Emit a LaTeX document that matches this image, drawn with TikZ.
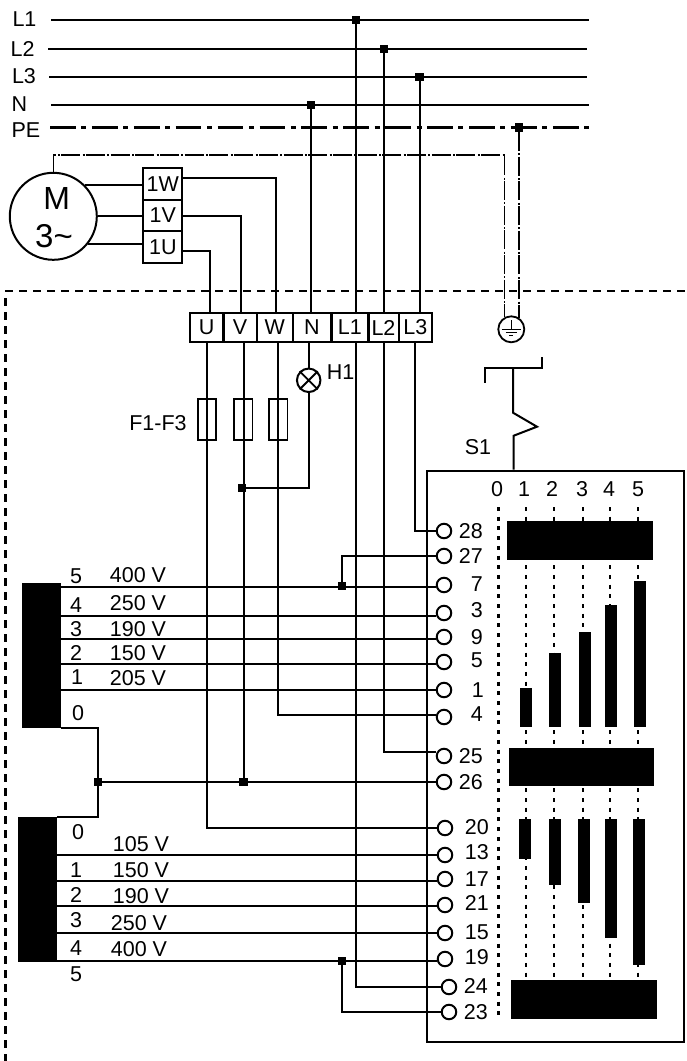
\documentclass[tikz,border=0pt]{standalone}
\usepackage{fontspec}
\setmainfont{Liberation Sans}
\usepackage{tikz}
\usetikzlibrary{positioning}

\begin{document}
\begin{tikzpicture}[x=1pt, y=-1pt,
		txt/.style = {inner sep=0, font=\fontsize{21.5}{24}\selectfont},
		bus/.style = {line width=2.9pt},
		pebus/.style = {line width=3.1pt, dash pattern=on 25.7pt off 5.6pt on 5pt off 5.6pt},
		wire/.style = {line width=2pt},
		pewire/.style = {line width=1.6pt, dash pattern=on 19pt off 2.4pt on 2pt off 1.3pt},
		limit/.style = {line width=2.6pt, dash pattern=on 8pt off 6pt},
		dots/.style = {line width=2.2pt, dash pattern=on 4pt off 5.7pt},
		joint/.style = {fill, inner sep=0, minimum size=8.5pt},
		cell/.style = {txt, draw, line width=2.4pt, minimum height=29pt},
		wind/.style = {txt, draw, line width=2.2pt, minimum width=39pt},
		fuse/.style = {draw, line width=1.8pt, minimum width=18.5pt, minimum height=41pt, inner sep=0},
		term/.style = {draw, circle, line width=2pt, minimum size=14.5pt, inner sep=0},
		core/.style = {fill, inner sep=0, minimum width=39pt, minimum height=145pt}]
	\useasboundingbox (0,0) rectangle (686,1061);

	% supply lines
	\foreach \n/\ax/\bx/\ly/\lx in {L1/51/589/20/24.5, L2/48/587/49/22.7, L3/49/587/77/24, N/51/589/105/19.5} {
		\node[txt] (l\n) at (\lx,\ly-0.5) {\n};
		\coordinate (a\n) at (\ax,\ly);
		\coordinate (b\n) at (\bx,\ly);
		\draw[bus] (a\n) -- (b\n);
	}
	\node[txt] (lPE) at (26,130.5) {PE};
	\coordinate (aPE) at (50,127.5);
	\coordinate (bPE) at (589,127.5);
	\draw[pebus] (aPE) -- (bPE);
	\node[joint] (jL1) at (356,20) {};
	\node[joint] (jL2) at (384,49) {};
	\node[joint] (jL3) at (419.5,77) {};
	\node[joint] (jN) at (311,105) {};
	\node[joint] (jPE) at (519,127.5) {};

	% motor
	\node[draw, circle, line width=2pt, minimum size=87pt, inner sep=0] (motor) at (53.3,216.3) {};
	\node[inner sep=0, font=\fontsize{32}{34}\selectfont] (mM) at (56.7,198) {M};
	\node[inner sep=0, font=\fontsize{33}{34}\selectfont] (m3) at (54,236) {3\textasciitilde};
	\node[wind, minimum height=32pt] (1W) at (162.8,184) {1W};
	\node[wind, minimum height=31pt] (1V) at (162.8,215.5) {1V};
	\node[wind, minimum height=32pt] (1U) at (162.8,247) {1U};
	\draw[wire] (motor.44) -- (motor.44 -| 1W.west);
	\draw[wire] (motor.east) -- (motor.east -| 1V.west);
	\draw[wire] (motor.-39) -- (motor.-39 -| 1U.west);

	% limit of the unit
	\coordinate (lim0) at (5.3,291);
	\coordinate (lim1) at (686,291);
	\coordinate (lim2) at (5.3,298);
	\coordinate (lim3) at (5.3,1061);
	\draw[limit] (lim0) -- (lim1);
	\draw[limit] (lim2) -- (lim3);

	% terminal block
	\foreach \n/\xa/\xb in {U/190/223.3, V/223.3/256.7, W/256.7/292.7, N/292.7/331.3, L1/331.3/368.3, L2/368.3/398.7, L3/398.7/432} {
		\node[cell, minimum width={(\xb-\xa)*1pt}] (t\n) at ({(\xa+\xb)/2},327.5) {\n};
	}
	\foreach \n/\yw/\xw/\t in {1W/177.7/275.7/W, 1V/215.7/241/V, 1U/250.7/210/U} {
		\coordinate (o\n) at (182.3,\yw);
		\draw[wire] (o\n) -| (\xw,0 |- t\t.north);
	}
	\draw[wire] (jN) -- (jN |- tN.north);
	\draw[wire] (jL1) -- (jL1 |- tL1.north);
	\draw[wire] (jL2) -- (jL2 |- tL2.north);
	\draw[wire] (jL3) -- (jL3 |- tL3.north);

	% earth
	\node[draw, circle, line width=1.8pt, minimum size=26pt, inner sep=0] (earth) at (511.3,329.3) {};
	\coordinate (pecorner) at (earth.119 |- 0,155);
	\draw[pewire] (motor.north) |- (pecorner) -- (earth.119);
	\draw[pewire] (jPE) -- (jPE |- earth.52);
	\draw[line width=1pt] (earth.center) ++(0,-9) -- ++(0,9) ++(-9.5,0) -- ++(19,0) ++(-15,3.2) -- ++(11,0) ++(-7.5,3.2) -- ++(4,0);

	% switch
	\node[draw, line width=2.8pt, minimum width=257pt, minimum height=571pt, inner sep=0] (drum) at (555.5,756.5) {};
	\coordinate (s1) at (484.7,382.7);
	\coordinate (s2) at (484.7,368);
	\coordinate (s3) at (541.7,368);
	\coordinate (s4) at (541.7,356.7);
	\coordinate (s5) at (513,368);
	\coordinate (s6) at (513,412.7);
	\coordinate (s7) at (537,426.7);
	\coordinate (s8) at (513.7,435.7);
	\draw[line width=2pt] (s1) -- (s2) -- (s3) -- (s4);
	\draw[line width=2pt] (s5) -- (s6) -- (s7) -- (s8) -- (s8 |- drum.north);
	\node[txt] (lS1) at (478,446.7) {S1};

	% lamp and fuses
	\node[draw, circle, line width=2pt, minimum size=23.5pt, inner sep=0] (H1) at (308.7,380.3) {};
	\draw[line width=1.8pt] (H1.45) -- (H1.225) (H1.135) -- (H1.-45);
	\node[txt] (lH1) at (340.7,371.7) {H1};
	\node[fuse] (F1) at (207,419.7) {};
	\node[fuse] (F2) at (243.2,419.7) {};
	\node[fuse] (F3) at (278.2,419.7) {};
	\node[txt] (lF) at (158,423) {F1-F3};

	% dotted columns of the switch
	\foreach \n/\xc/\lx in {0/498.5/497, 1/525.7/524, 2/554/552, 3/583/582, 4/610/609, 5/638/638} {
		\node[txt] (c\n) at (\lx,489) {\n};
		\coordinate (da\n) at (\xc,507);
		\coordinate (db\n) at (\xc,1021);
		\draw[dots] (da\n) -- (db\n);
	}
	\fill (507,521) rectangle (653,560);
	\fill (509,748) rectangle (654,786);
	\fill (511,980) rectangle (657,1019);
	\foreach \xa/\ya in {520/688, 549/653, 579/632, 605/605, 634/581} {
		\fill (\xa,\ya) rectangle (\xa+12,727);
	}
	\foreach \xa/\ya in {519/859, 549/885, 578/903, 605/938, 633/965} {
		\fill (\xa,819) rectangle (\xa+12,\ya);
	}

	% terminals
	\foreach \n/\xt/\yt/\xl/\yl in {28/444/531/483/531, 27/444/556/483/556, 7/444/585/483/584, 3/444/613/483/610, 9/444/637/483/637, 5/444/662/483/660, 1/444/690/484/690, 4/444/717/483/714, 25/444/756/483/756, 26/444/782/483/782, 20/445/828/489/827, 13/445/855/489/852, 17/445/879/489/879, 21/445/905/489/903, 15/445/933/489/932, 19/445/959/489/957, 24/449/987/488/986, 23/449/1012/488/1012} {
		\node[term] (k\n) at (\xt,\yt) {};
		\node[txt, anchor=east] (m\n) at (\xl,\yl) {\n};
	}

	% windings
	\node[core] (upper) at (41.5,655.5) {};
	\node[core] (lower) at (37.5,889.5) {};
	\foreach \n/\yw in {7/587, 3/616, 9/639, 5/664, 1/690} {
		\coordinate (a\n) at (upper.east |- 0,\yw);
		\draw[wire] (a\n) -- (a\n -| k\n.west);
	}
	\foreach \n/\yw in {13/855, 17/881, 21/906, 15/933, 19/961} {
		\coordinate (a\n) at (lower.east |- 0,\yw);
		\draw[wire] (a\n) -- (a\n -| k\n.west);
	}
	\foreach \n/\lx/\ly/\v/\vx/\vy in {5/76/576/400/138/575, 4/76/605/250/138/603, 3/76/629/190/138/629, 2/76/653/150/138/653, 1/77/677/205/138/678} {
		\node[txt] (ua\n) at (\lx,\ly) {\n};
		\node[txt] (ub\n) at (\vx,\vy) {\v{} V};
	}
	\node[txt] (ua0) at (78,713) {0};
	\node[txt] (la0) at (78,832) {0};
	\foreach \n/\lx/\ly/\v/\vx/\vy in {1/76/870/105/141/844, 2/76/895/150/141/870, 3/76/920/190/141/896, 4/76/948/250/139/923, 5/76/974/400/139/949} {
		\node[txt] (la\n) at (\lx,\ly) {\n};
		\node[txt] (lb\n) at (\vx,\vy) {\v{} V};
	}

	% wiring to the terminals
	\node[joint] (j7) at (342,586) {};
	\node[joint] (j19) at (342,961) {};
	\node[joint] (j0) at (98,782) {};
	\node[joint] (jV) at (243.7,782) {};
	\node[joint] (jF) at (242,488) {};
	\draw[wire] (upper.south east) -| (j0) |- (lower.north east);
	\draw[wire] (j0) -- (jV) -- (jV -| k26.west);
	\draw[wire] (j7) |- (k27.west);
	\draw[wire] (j19) |- (k23.west);
	\coordinate (a25) at (k25.west |- 0,752);
	\coordinate (a4) at (k4.west |- 0,715);
	\draw[wire] (F1.north |- tU.south) |- (k20.west);
	\draw[wire] (jV |- tV.south) -- (jV);
	\draw[wire] (F3.north |- tW.south) |- (a4);
	\draw[wire] (H1.north |- tN.south) -- (H1.north);
	\draw[wire] (H1.south) |- (jF);
	\draw[wire] (jL1 |- tL1.south) |- (k24.west);
	\draw[wire] (jL2 |- tL2.south) |- (a25);
	\draw[wire] (415,0 |- tL3.south) |- (k28.west);
\end{tikzpicture}
\end{document}
